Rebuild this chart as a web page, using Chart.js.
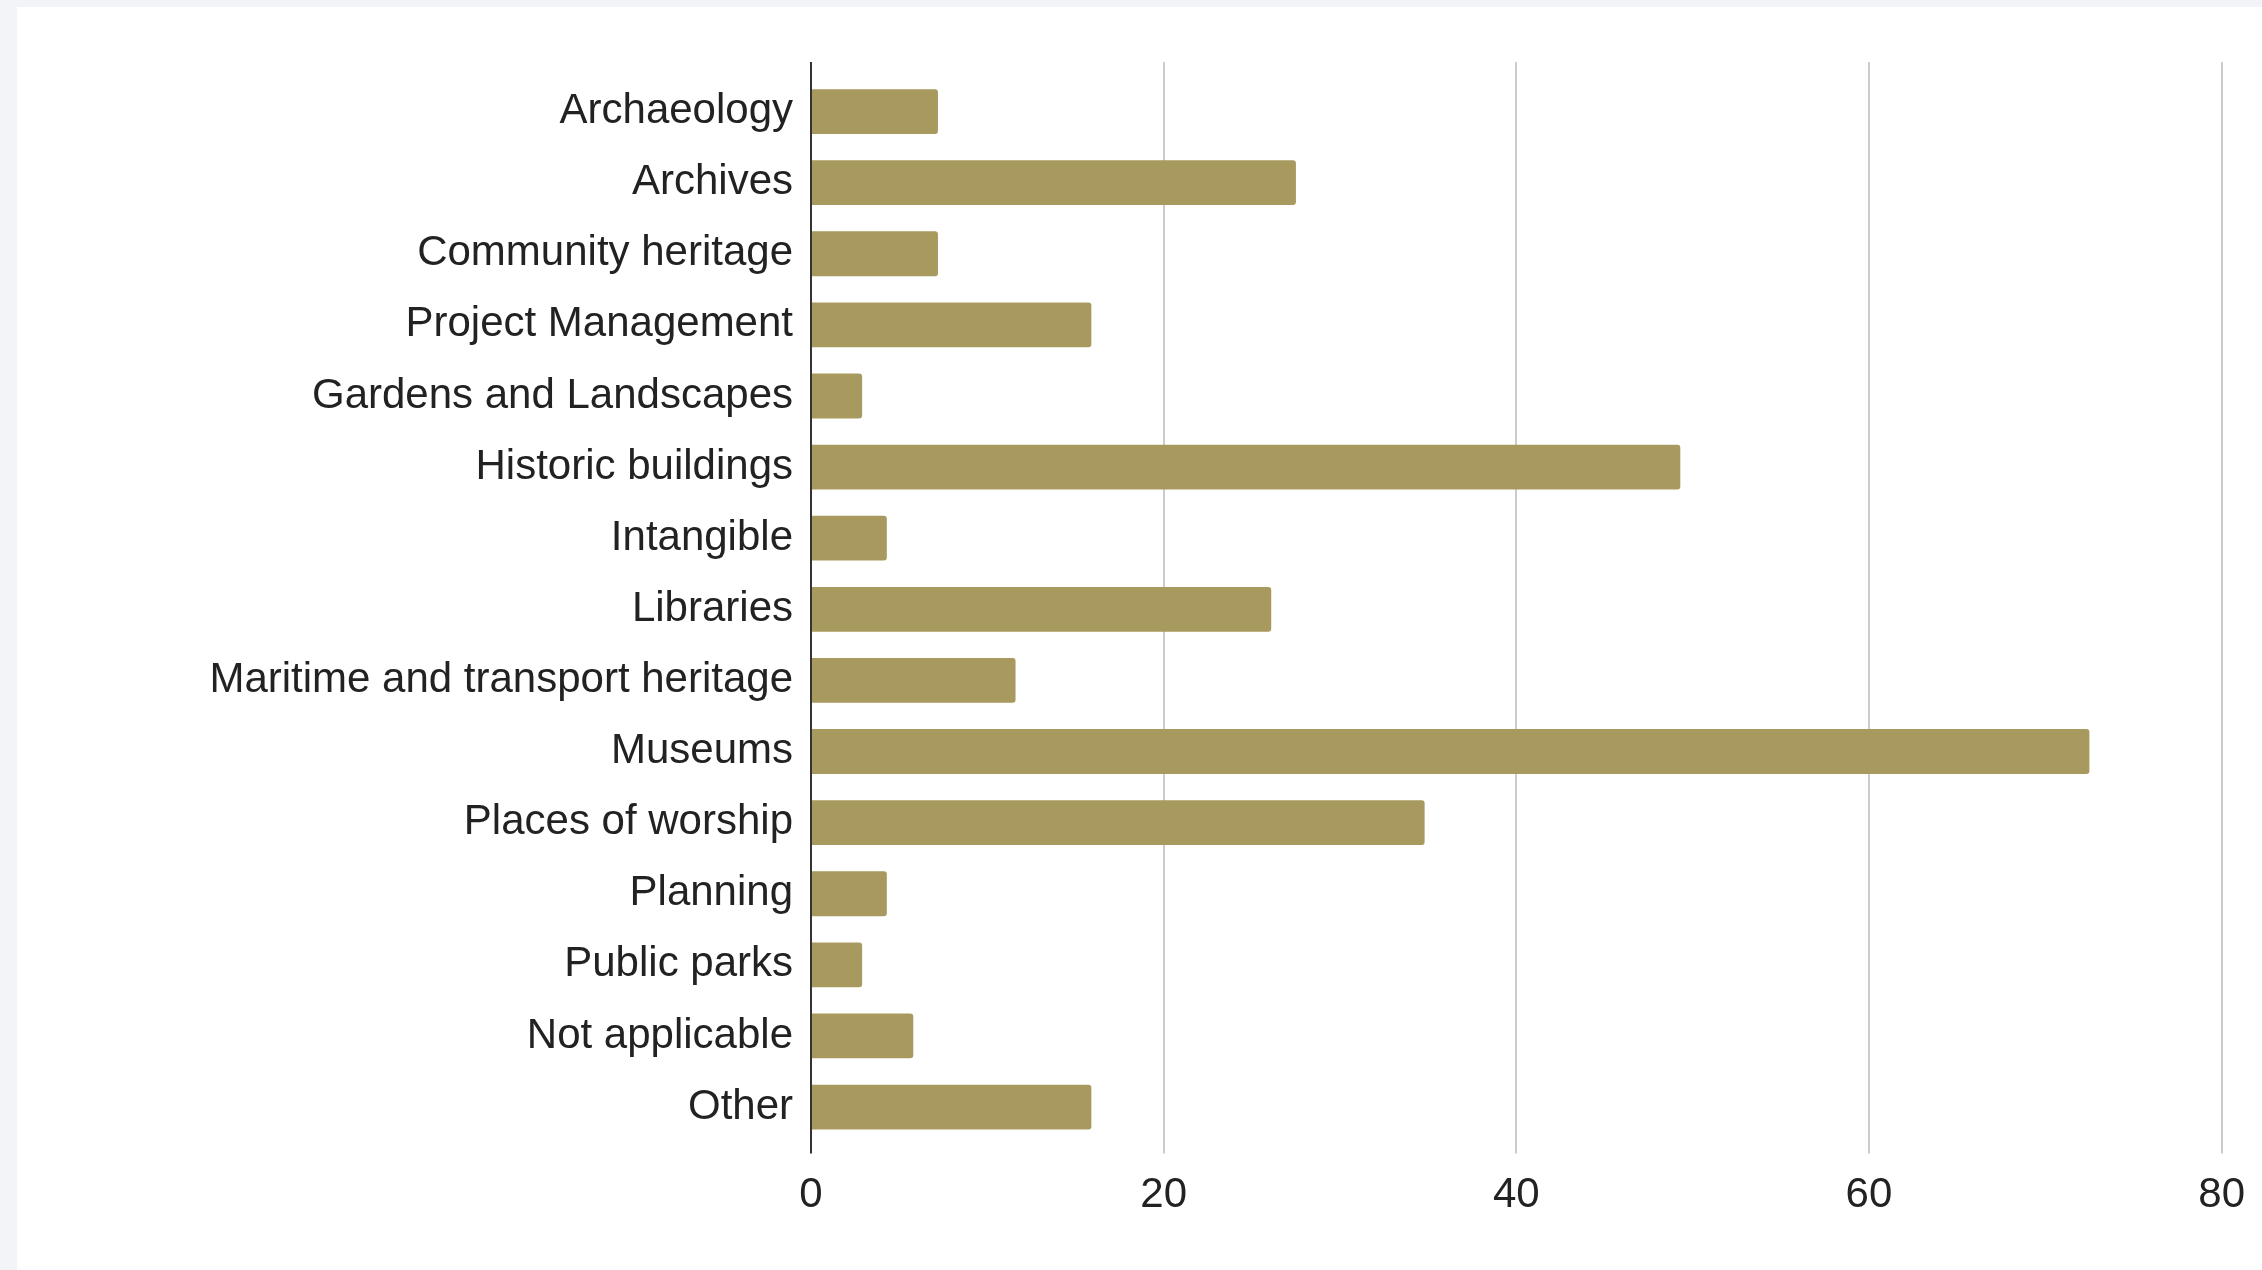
<!DOCTYPE html>
<html>
<head>
<meta charset="utf-8">
<script src="https://cdn.jsdelivr.net/npm/chart.js@4/dist/chart.umd.min.js"></script>
<style>
  html, body { margin: 0; padding: 0; background: #f3f4f8; }
  #wrap { position: absolute; left: 17px; top: 7px; width: 2245px; height: 1263px; background: #fff; }
</style>
</head>
<body>
<div id="wrap"><canvas id="myChart" width="2245" height="1263"></canvas></div>
<script>
// areas of heritage work, share of respondents (%)
var sectorLabels = ['Archaeology', 'Archives', 'Community heritage', 'Project Management',
  'Gardens and Landscapes', 'Historic buildings', 'Intangible', 'Libraries',
  'Maritime and transport heritage', 'Museums', 'Places of worship', 'Planning',
  'Public parks', 'Not applicable', 'Other']
var sectorValues = [7.2, 27.5, 7.2, 15.9, 2.9, 49.3, 4.3, 26.1, 11.6, 72.5, 34.8, 4.3, 2.9, 5.8, 15.9]
var xTicks = [0, 20, 40, 60, 80]

var barColor = '#a8995f'
var font = { family: '"Liberation Sans", Arial, sans-serif', size: 42 }

// zero line is dark, the others light grey
function gridColor(c) {
  return c.tick && c.tick.value === 0 ? '#333333' : '#cccccc'
}

let ctx = document.getElementById('myChart').getContext('2d');
let chart = new Chart(ctx, {
    type: 'bar',
    data: {
        labels: sectorLabels,
        datasets: [{
            data: sectorValues,
            backgroundColor: barColor,
            borderRadius: 3,
            borderSkipped: 'start',
            categoryPercentage: 1,
            barPercentage: 0.63
        }]
    },
    options: {
        indexAxis: 'y',
        responsive: false,
        animation: false,
        layout: { padding: { top: 55, right: 37, bottom: 32, left: 0 } },
        plugins: {
            legend: { display: false },
            tooltip: { enabled: false }
        },
        scales: {
            x: {
                position: 'bottom',
                min: xTicks[0],
                max: xTicks[xTicks.length - 1],
                afterBuildTicks: function (s) { s.ticks = xTicks.map(function (v) { return { value: v } }) },
                border: { display: false },
                grid: { color: gridColor, lineWidth: 2, tickLength: 11 },
                ticks: { color: '#222', font: font, padding: 17 }
            },
            xTop: {
                axis: 'x',
                position: 'top',
                min: xTicks[0],
                max: xTicks[xTicks.length - 1],
                afterBuildTicks: function (s) { s.ticks = xTicks.map(function (v) { return { value: v } }) },
                border: { display: false },
                grid: { color: gridColor, lineWidth: 2, tickLength: 14, drawOnChartArea: false },
                ticks: { display: false }
            },
            y: {
                border: { display: false },
                grid: { display: false, drawTicks: false },
                ticks: { color: '#222', font: font, padding: 18 },
                afterFit: function (s) { s.width = 794 }
            }
        }
    }
});
</script>
</body>
</html>
